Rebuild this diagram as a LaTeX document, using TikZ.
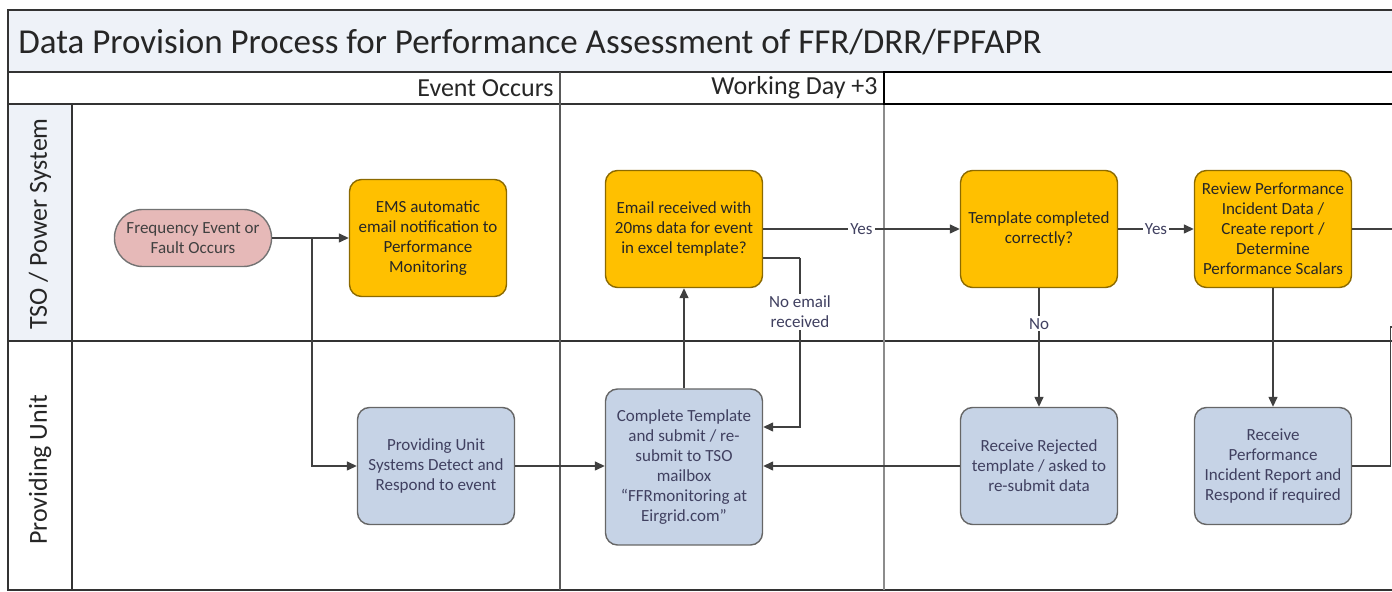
\documentclass[tikz,border=0pt]{standalone}
\usepackage{fontspec}
\setmainfont{Carlito}
\usetikzlibrary{
    arrows.meta,
    positioning,
    calc
}
\definecolor{tsoorange}{HTML}{FFC000}
\definecolor{unitblue}{HTML}{C6D3E6}
\definecolor{startpink}{HTML}{E6B9B8}
\definecolor{headfill}{HTML}{EEF2F8}
\definecolor{labeltext}{HTML}{404060}
\tikzset{
    % Colors
    task orange/.style={fill=tsoorange,draw=tsoorange!55!black,text=black!85},
    task blue/.style={fill=unitblue,draw=black!60,text=labeltext},
    start pink/.style={fill=startpink,draw=black!55,text=black!75},
    %
    % Lanes and header
    lane line/.style={draw=black!80,line width=1pt},
    column line/.style={draw=black!45,line width=1.3pt},
    lanelabel/.style={rotate=90,font=\fontsize{13}{15}\selectfont,text=black!85},
    headlabel/.style={anchor=east,inner sep=1pt,font=\fontsize{13}{15}\selectfont,text=black!85},
    %
    % Boxes
    task/.style={rounded corners=6pt,minimum width=78.5pt,minimum height=58.5pt,
        align=center,line width=.7pt,inner sep=2pt},
    pill/.style={rounded corners=14pt,minimum width=78.5pt,minimum height=28.5pt,
        align=center,line width=.7pt,inner sep=2pt,start pink},
    %
    % Arrows
    arrow tip/.tip={Triangle[length=5pt,width=4.5pt]},
    arr/.style={->,>={arrow tip},draw=black!75,line width=.7pt},
    line/.style={draw=black!75,line width=.7pt},
    flowlabel/.style={fill=white,inner sep=1pt,align=center,text=labeltext}
}
\tikzstyle{every node}=[font=\fontsize{8.5}{10}\selectfont]

\begin{document}
\begin{tikzpicture}[x=.5pt,y=-.5pt]
    \useasboundingbox (0,0) rectangle (1392,592);
    % Title band and lane frame
    \fill[headfill] (8,10) rectangle (1392,72);
    \fill[headfill] (8,104) rectangle (72,341);
    \draw[lane line] (1392,10) -- (8,10) -- (8,590) -- (1392,590);
    \draw[lane line] (8,72) -- (1392,72);
    \draw[lane line] (8,104) -- (1392,104);
    \draw[lane line] (8,341) -- (1392,341);
    \draw[lane line] (72,104) -- (72,590);
    \draw[column line,draw=black!65] (560,72) -- (560,590);
    \draw[column line] (884,104) -- (884,590);
    \draw[line width=1.3pt] (1392,72) -- (884,72) -- (884,104) -- (1392,104);
    \node[anchor=west,inner sep=0pt,font=\fontsize{17.5}{20}\selectfont,text=black!85] (title) at (18,42)
        {Data Provision Process for Performance Assessment of FFR/DRR/FPFAPR};
    \node[headlabel] (event) at (556,88) {Event Occurs};
    \node[headlabel] (wday) at (880,88) {Working Day +3};
    \node[lanelabel] (tso) at (40,224) {TSO / Power System};
    \node[lanelabel] (pu) at (40,470) {Providing Unit};

    % TSO lane
    \node[pill] (freq) at (193,238) {Frequency Event or\\Fault Occurs};
    \node[task,task orange] (ems) at (428,238) {EMS automatic\\email notification to\\Performance\\Monitoring};
    \node[task,task orange] (email) at (684,229) {Email received with\\20ms data for event\\in excel template?};
    \node[task,task orange] (templ) at (1039,229) {Template completed\\correctly?};
    \node[task,task orange] (review) at (1273,229) {Review Performance\\Incident Data /\\Create report /\\Determine\\Performance Scalars};

    % Providing unit lane
    \node[task,task blue] (unit) at (436,466) {Providing Unit\\Systems Detect and\\Respond to event};
    \node[task,task blue,minimum height=78pt] (complete) at (684,467) {Complete Template\\and submit / re-\\submit to TSO\\mailbox\\“FFRmonitoring at\\Eirgrid.com”};
    \node[task,task blue] (reject) at (1039,466) {Receive Rejected\\template / asked to\\re-submit data};
    \node[task,task blue] (perf) at (1273,466) {Receive\\Performance\\Incident Report and\\Respond if required};

    % Connectors
    \coordinate (split) at (312,238);
    \coordinate (nobend) at (800,258);
    \coordinate (out1) at (1392,229);
    \coordinate (out2) at (1392,327);
    \draw[arr] (freq) -- (ems);
    \draw[arr] (split) |- (unit.west);
    \draw[arr] (unit.east) -- (unit.east -| complete.west);
    \draw[arr] (complete) -- (email);
    \draw[line] ($(email.east)+(0,29)$) -- (nobend);
    \draw[arr] (nobend) |- node[flowlabel,pos=.16] {No email\\received} ($(complete.east)+(0,-40)$);
    \draw[arr] (email) -- node[flowlabel] {Yes} (templ);
    \draw[arr] (templ) -- node[flowlabel] {Yes} (review);
    \draw[arr] (templ) -- node[flowlabel,pos=.3] {No} (reject);
    \draw[arr] (reject.west) -- (reject.west -| complete.east);
    \draw[arr] (review) -- (perf);
    \draw[line] (review.east) -- (out1);
    \draw[line] (perf.east) -- ++(38,0) |- (out2);
\end{tikzpicture}
\end{document}
